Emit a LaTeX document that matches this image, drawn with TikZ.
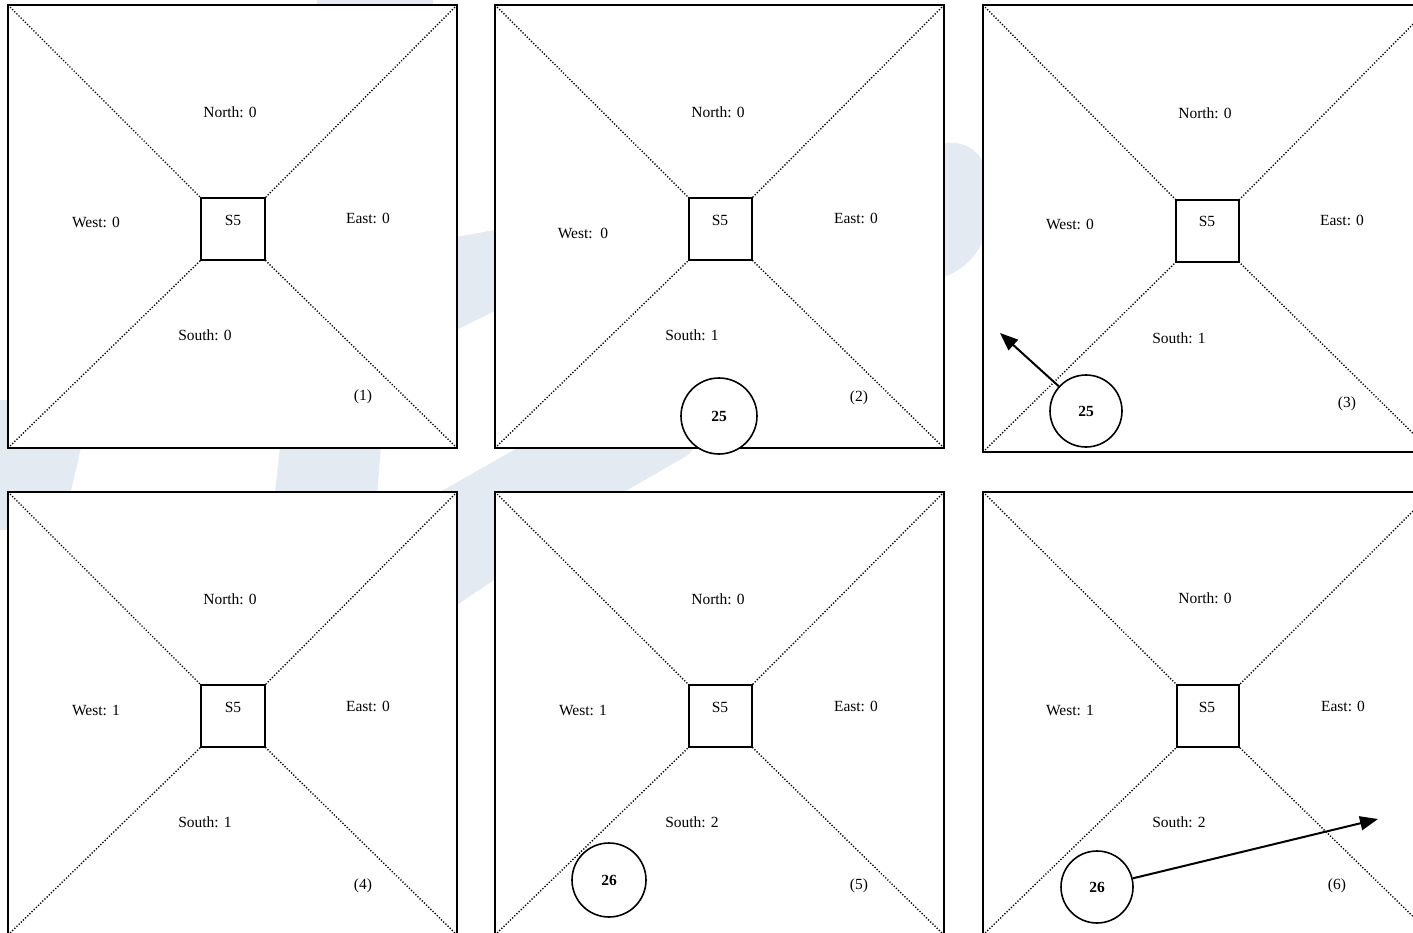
\documentclass[tikz,border=0pt]{standalone}
\usepackage{fontspec}
\setmainfont{Liberation Serif}
\usetikzlibrary{arrows.meta}
\definecolor{wmark}{HTML}{E4EAF1}
\tikzset{
  panel/.style={draw=black, fill=white, line width=2.2pt, rectangle, inner sep=0pt, outer sep=0pt, minimum width=449pt},
  sq/.style={draw=black, line width=2pt, rectangle, inner sep=0pt, outer sep=0pt, minimum width=63pt, minimum height=62pt},
  lab/.style={inner sep=0pt, font=\fontsize{15.5}{18}\selectfont},
  ball/.style={draw=black, fill=white, line width=1.6pt, circle, inner sep=0pt, font=\fontsize{15.5}{18}\selectfont\bfseries},
  diag/.style={line width=1.4pt, dash pattern=on 1.2pt off 1.8pt},
  arr/.style={line width=2pt, -{Triangle[length=18pt,width=14pt]}}
}
\newcommand\diagsof[2]{\foreach \c in {north west,north east,south west,south east}{\draw[diag] (#1.\c) -- (#2.\c);}}
\begin{document}
\begin{tikzpicture}[x=1pt,y=-1pt]
\useasboundingbox (0,0) rectangle (1413,933);
\clip (0,0) rectangle (1413,933);
% faint watermark
\fill[wmark] (0,400) -- (92,400) -- (62,530) -- (0,530) -- cycle;
\fill[wmark] (283,420) -- (383,420) -- (375,520) -- (272,520) -- cycle;
\fill[wmark] (200,640) -- (440,492) -- (505,455) .. controls (700,345) and (850,175) .. (944,143)
  .. controls (975,140) and (990,160) .. (990,200) .. controls (990,240) and (975,265) .. (944,277)
  .. controls (850,320) and (750,380) .. (688,455) -- (624,492) -- (457,605) -- (380,660) -- cycle;
\fill[wmark] (440,240) -- (505,228) -- (505,306) -- (440,338) -- cycle;
\fill[wmark] (317,0) -- (433,0) -- (433,8) -- (317,8) -- cycle;
% panels
\node[panel, minimum height=443pt] (p1) at (232.5,226.5) {};
\node[panel, minimum height=443pt] (p2) at (719.5,226.5) {};
\node[panel, minimum height=447pt] (p3) at (1207.5,228.5) {};
\node[panel, minimum height=443pt] (p4) at (232.5,713.5) {};
\node[panel, minimum height=443pt] (p5) at (719.5,713.5) {};
\node[panel, minimum height=443pt] (p6) at (1207.5,713.5) {};
% central squares
\node[sq, minimum width=64pt] (s1) at (233,229) {};
\node[sq] (s2) at (720.5,229) {};
\node[sq] (s3) at (1207.5,231) {};
\node[sq, minimum width=64pt] (s4) at (233,716) {};
\node[sq] (s5) at (720.5,716) {};
\node[sq, minimum width=62pt] (s6) at (1208,716) {};
\diagsof{p1}{s1}
\diagsof{p2}{s2}
\diagsof{p3}{s3}
\diagsof{p4}{s4}
\diagsof{p5}{s5}
\diagsof{p6}{s6}
% panel 1
\node[lab] (t1s) at (233,220) {S5};
\node[lab] (t1n) at (230,112) {North: 0};
\node[lab] (t1w) at (96,222) {West: 0};
\node[lab] (t1e) at (368,218) {East: 0};
\node[lab] (t1so) at (205,335) {South: 0};
\node[lab] (t1k) at (363,397) {(1)};
% panel 2
\node[lab] (t2s) at (720,220) {S5};
\node[lab] (t2n) at (718,112) {North: 0};
\node[lab] (t2w) at (583,233) {West:\ \ 0};
\node[lab] (t2e) at (856,218) {East: 0};
\node[lab] (t2so) at (692,335) {South: 1};
\node[lab] (t2k) at (859,398) {(2)};
\node[ball, minimum size=76pt] (c2) at (719,416) {25};
% panel 3
\node[lab] (t3s) at (1207,221) {S5};
\node[lab] (t3n) at (1205,113) {North: 0};
\node[lab] (t3w) at (1070,224) {West: 0};
\node[lab] (t3e) at (1342,220) {East: 0};
\node[lab] (t3so) at (1179,338) {South: 1};
\node[lab] (t3k) at (1347,404) {(3)};
\node[ball, minimum size=72pt] (c3) at (1086,411) {25};
\coordinate (a3) at (1000,333);
\draw[arr] (c3) -- (a3);
% panel 4
\node[lab] (t4s) at (233,707) {S5};
\node[lab] (t4n) at (230,599) {North: 0};
\node[lab] (t4w) at (96,710) {West: 1};
\node[lab] (t4e) at (368,706) {East: 0};
\node[lab] (t4so) at (205,822) {South: 1};
\node[lab] (t4k) at (363,886) {(4)};
% panel 5
\node[lab] (t5s) at (720,707) {S5};
\node[lab] (t5n) at (718,599) {North: 0};
\node[lab] (t5w) at (583,710) {West: 1};
\node[lab] (t5e) at (856,706) {East: 0};
\node[lab] (t5so) at (692,822) {South: 2};
\node[lab] (t5k) at (859,886) {(5)};
\node[ball, minimum size=74pt] (c5) at (609,880) {26};
% panel 6
\node[lab] (t6s) at (1207,707) {S5};
\node[lab] (t6n) at (1205,598) {North: 0};
\node[lab] (t6w) at (1070,710) {West: 1};
\node[lab] (t6e) at (1343,706) {East: 0};
\node[lab] (t6so) at (1179,822) {South: 2};
\node[lab] (t6k) at (1337,886) {(6)};
\node[ball, minimum size=72pt] (c6) at (1097,887) {26};
\coordinate (a6) at (1378,819);
\draw[arr] (c6) -- (a6);
\end{tikzpicture}
\end{document}
